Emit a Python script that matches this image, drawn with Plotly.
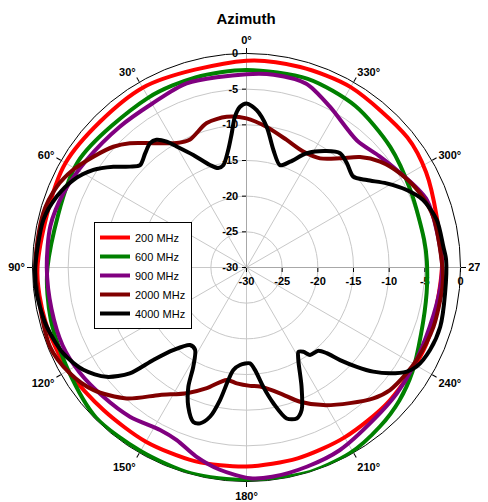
import plotly.graph_objects as go

title_text = "Azimuth"
series_names = ["200 MHz", "600 MHz", "900 MHz", "2000 MHz", "4000 MHz"]
series_colors = ["#ff0000", "#008000", "#800080", "#800000", "#000000"]

theta_200 = [0, 30, 60, 90, 105, 120, 135, 150, 165, 180, 195, 210, 227, 247, 270, 285, 298, 309, 330, 345, 360]
r_200 = [-1.0, -0.9, -0.7, -0.7, -0.8, -1.1, -1.7, -1.8, -1.9, -2.1, -2.3, -2.5, -2.6, -2.6, -2.6, -2.4, -1.5, -1.0, -0.8, -0.9, -1.0]

theta_600 = [0, 15, 30, 58, 90, 105, 120, 135, 150, 165, 180, 196, 209, 220, 229, 238, 249, 262, 272, 279, 295, 310, 326, 342, 360]
r_600 = [-2.3, -2.4, -2.5, -2.1, -2.1, -1.6, -1.15, -0.2, -0.3, -0.1, -0.2, 0.0, -0.2, -0.9, -1.6, -2.55, -3.8, -4.5, -4.7, -4.8, -4.6, -3.7, -2.7, -2.2, -2.3]

theta_900 = [0, 18, 30, 42, 56, 68, 78, 90, 102, 113, 122, 132, 142, 152, 158, 165, 172.5, 181, 187, 197, 207, 220, 230, 239, 252, 264, 272, 290.5, 303, 310, 319, 332.6, 342, 352, 360]
r_900 = [-2.9, -2.85, -3.5, -3.45, -3.0, -2.3, -1.9, -2.0, -2.05, -2.0, -2.35, -2.95, -3.45, -4.2, -3.9, -2.6, -1.4, -0.45, -0.44, -0.83, -1.25, -2.2, -2.5, -2.8, -3.0, -2.7, -2.6, -3.0, -4.9, -5.7, -6.4, -4.6, -2.9, -2.7, -2.9]

theta_2000 = [0, 7.5, 15.4, 24, 29.3, 36.9, 43.2, 47.8, 54.1, 60.6, 66.9, 75, 90, 112, 121, 128.6, 137.5, 145.8, 154.6, 161.8, 170, 175.2, 181.7, 186.5, 194.9, 201.7, 209.2, 217.3, 224.1, 229.5, 236.6, 241.5, 252.4, 264.4, 269.3, 284.8, 293.2, 301.5, 308.4, 314.2, 319.4, 326, 333.9, 342.5, 351.8, 360]
r_2000 = [-9.1, -8.7, -9.0, -10.4, -10.0, -8.2, -6.1, -4.8, -3.5, -2.1, -1.1, -0.5, -0.4, -0.3, -1.15, -2.5, -5.1, -8.4, -10.5, -12.2, -14.0, -13.7, -13.4, -13.2, -11.75, -9.75, -7.9, -6.1, -4.45, -3.55, -3.1, -2.85, -2.5, -2.4, -2.5, -2.85, -3.55, -4.75, -6.1, -7.8, -9.85, -11.55, -11.9, -11.25, -10.1, -9.1]

theta_4000 = [0, 2.3, 4.4, 6.3, 8.8, 12.8, 15.9, 19.6, 25.3, 30, 32.4, 35.2, 37.8, 41.6, 46.1, 49.1, 52.9, 57.5, 63.2, 69.5, 76.8, 90.7, 97, 106.5, 115.1, 122.1, 128, 132.2, 134.8, 138.4, 143.9, 148, 151.8, 154, 157.3, 161, 163.4, 166.3, 168.7, 170.8, 172.7, 176.2, 182.1, 184.7, 188, 191.2, 194.9, 198.4, 201.2, 204.8, 209.2, 211.6, 214, 216, 220.8, 223.1, 225.3, 228, 230.6, 233.6, 237, 239.8, 245.8, 253, 262.6, 272.2, 276, 284, 290.9, 295.8, 301, 306, 310.4, 316.1, 320.7, 325.5, 332.2, 337.6, 341.9, 347.1, 351.8, 356.3, 360]
r_4000 = [-7.0, -7.45, -8.8, -11.1, -13.3, -15.3, -15.5, -14.75, -12.55, -10.4, -9.1, -8.1, -7.95, -8.6, -9.3, -8.4, -6.6, -4.55, -2.8, -1.6, -0.75, -0.35, -0.36, -0.8, -1.64, -3.0, -5.1, -7.9, -11.6, -14.5, -16.55, -16.4, -14.2, -11.4, -8.85, -7.1, -7.2, -8.5, -11.05, -14.0, -15.5, -16.3, -16.55, -15.6, -13.1, -10.6, -8.1, -7.7, -8.6, -11.6, -15.1, -16.1, -15.75, -14.85, -14.6, -13.55, -11.55, -9.2, -7.0, -5.0, -3.2, -2.4, -1.8, -1.6, -1.93, -2.0, -2.25, -2.5, -3.5, -5.05, -7.1, -9.15, -10.35, -9.7, -9.3, -10.2, -11.9, -13.95, -14.9, -13.1, -10.1, -7.9, -7.0]

angle_ticks = [0, 30, 60, 90, 120, 150, 180, 210, 240, 270, 300, 330]
angle_labels = [f"{a}°" for a in angle_ticks]
radial_ticks = [-30, -25, -20, -15, -10, -5, 0]
radial_labels = [str(v) for v in radial_ticks]
r_range = [-30, 0]

thetas = [theta_200, theta_600, theta_900, theta_2000, theta_4000]
rs = [r_200, r_600, r_900, r_2000, r_4000]

FONT = "Liberation Sans, Arial, sans-serif"

# the page body has an 8px margin, so the figure fills the window from (8, 8)
OFF = 8
W, H = 488 - OFF, 502 - OFF
cx, cy, R = 246.5 - OFF, 267.5 - OFF, 214

fig = go.Figure()

# helper (invisible) so the background polar subplot is drawn
fig.add_trace(go.Scatterpolar(r=[r_range[0]], theta=[0], mode="markers",
                              marker=dict(opacity=0), showlegend=False,
                              hoverinfo="skip", subplot="polar"))

for name, color, th, rr in zip(series_names, series_colors, thetas, rs):
    fig.add_trace(go.Scatterpolar(r=rr, theta=th, mode="lines", name=name,
                                  line=dict(color=color, width=4, shape="spline", smoothing=0.8),
                                  subplot="polar2"))

dom_x = [(cx - R) / W, (cx + R) / W]
dom_y = [(H - cy - R) / H, (H - cy + R) / H]

fig.update_layout(
    width=W, height=H, autosize=False,
    margin=dict(l=0, r=0, t=0, b=0),
    paper_bgcolor="white",
    font=dict(family=FONT, size=11, color="black"),
    title=dict(text=title_text, x=(246 - OFF) / W, xanchor="center", y=1 - (19 - OFF) / H, yanchor="middle",
               font=dict(family=FONT, size=15, color="black", weight="bold")),
    polar=dict(
        domain=dict(x=dom_x, y=dom_y),
        bgcolor="white",
        angularaxis=dict(rotation=90, direction="counterclockwise",
                         tickmode="array", tickvals=angle_ticks, ticktext=angle_labels,
                         ticks="outside", ticklen=5, tickcolor="black",
                         showline=True, linecolor="black", linewidth=1,
                         showgrid=True, gridcolor="#c8c8c8", gridwidth=1,
                         tickfont=dict(family=FONT, size=11, color="black", weight="bold")),
        radialaxis=dict(range=r_range, angle=90, side="counterclockwise", tickangle=90,
                        tickmode="array", tickvals=radial_ticks, ticktext=radial_labels,
                        ticks="outside", ticklen=4, tickcolor="black",
                        showline=True, linecolor="#a8a8a8", linewidth=1,
                        showgrid=True, gridcolor="#c8c8c8", gridwidth=1,
                        layer="below traces",
                        tickfont=dict(family=FONT, size=11, color="black", weight="bold")),
    ),
    polar2=dict(
        domain=dict(x=dom_x, y=dom_y),
        bgcolor="rgba(0,0,0,0)",
        angularaxis=dict(rotation=90, direction="counterclockwise", visible=False,
                         showgrid=False, showline=False, ticks=""),
        radialaxis=dict(range=r_range, angle=0, side="clockwise", tickangle=0,
                        tickmode="array", tickvals=radial_ticks, ticktext=radial_labels,
                        ticks="outside", ticklen=4, tickcolor="black",
                        showline=True, linecolor="#a8a8a8", linewidth=1,
                        showgrid=False, layer="below traces",
                        tickfont=dict(family=FONT, size=11, color="black", weight="bold")),
    ),
    legend=dict(x=(94 - OFF) / W, y=1 - (222 - OFF) / H, xanchor="left", yanchor="top",
                bgcolor="white", bordercolor="black", borderwidth=1,
                font=dict(family=FONT, size=11, color="black")),
    showlegend=True,
)

fig.write_html("out.html")
